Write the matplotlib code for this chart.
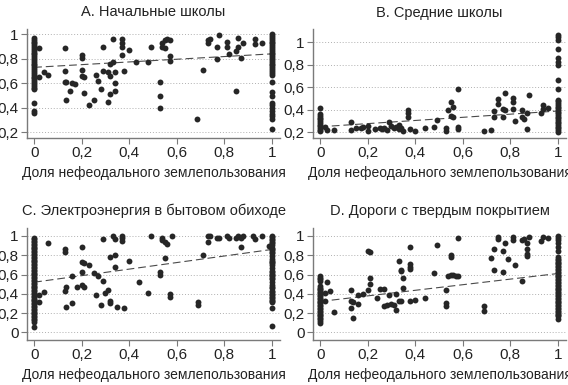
import matplotlib
matplotlib.use("Agg")
import matplotlib.pyplot as plt

plt.rcParams['font.family'] = ['Liberation Sans', 'DejaVu Sans']

titles = ["A. Начальные школы", "B. Средние школы",
          "C. Электроэнергия в бытовом обиходе", "D. Дороги с твердым покрытием"]
x_label = "Доля нефеодального землепользования"
x_ticks = [0, 0.2, 0.4, 0.6, 0.8, 1]
x_tick_labels = ["0", "0,2", "0,4", "0,6", "0,8", "1"]
y_ticks_ab = [0.2, 0.4, 0.6, 0.8, 1]
y_tick_labels_ab = ["0,2", "0,4", "0,6", "0,8", "1"]
y_ticks_cd = [0, 0.2, 0.4, 0.6, 0.8, 1]
y_tick_labels_cd = ["0", "0,2", "0,4", "0,6", "0,8", "1"]

# --- A. primary schools ---
a_x = [0.02, 0.02, 0.04, 0.06, 0.13, 0.13, 0.13, 0.135, 0.135, 0.16, 0.17, 0.15,
       0.20, 0.20, 0.20, 0.20, 0.21, 0.21, 0.23, 0.25, 0.26, 0.27, 0.28, 0.29,
       0.29, 0.31, 0.32, 0.32, 0.33, 0.32, 0.31, 0.34, 0.34, 0.34, 0.33, 0.37,
       0.37, 0.37, 0.37, 0.38, 0.40, 0.43, 0.48, 0.49, 0.53, 0.53, 0.53, 0.54,
       0.55, 0.56, 0.54, 0.55, 0.57, 0.57, 0.57, 0.685, 0.71, 0.73, 0.74, 0.73,
       0.78, 0.77, 0.77, 0.81, 0.81, 0.82, 0.85, 0.86, 0.86, 0.87, 0.85, 0.88,
       0.93, 0.93, 0.96]
a_y = [0.89, 0.65, 0.69, 0.67, 0.89, 0.70, 0.61, 0.61, 0.46, 0.60, 0.59, 0.54,
       0.83, 0.81, 0.71, 0.66, 0.65, 0.52, 0.42, 0.46, 0.67, 0.62, 0.55, 0.90,
       0.70, 0.69, 0.66, 0.76, 0.77, 0.51, 0.45, 0.54, 0.60, 0.69, 0.96, 0.96,
       0.93, 0.90, 0.83, 0.70, 0.87, 0.77, 0.77, 0.90, 0.61, 0.50, 0.40, 0.93,
       0.95, 0.96, 0.90, 0.89, 0.95, 0.82, 0.78, 0.31, 0.71, 0.95, 0.96, 0.93,
       0.99, 0.90, 0.80, 0.94, 0.90, 0.84, 0.54, 0.97, 0.90, 0.81, 0.86, 0.93,
       0.96, 0.92, 0.93]
a_col0 = [0.97, 0.955, 0.94, 0.925, 0.91, 0.895, 0.88, 0.865, 0.85, 0.835, 0.82,
          0.805, 0.79, 0.775, 0.76, 0.745, 0.73, 0.715, 0.70, 0.685, 0.67, 0.655,
          0.64, 0.625, 0.61, 0.595, 0.58, 0.565, 0.55, 0.44, 0.37, 0.36]
a_col1 = [1.0, 0.985, 0.97, 0.955, 0.94, 0.925, 0.91, 0.895, 0.88, 0.865, 0.85,
          0.835, 0.82, 0.805, 0.79, 0.775, 0.76, 0.745, 0.73, 0.715, 0.70, 0.685,
          0.67, 0.61, 0.53, 0.50, 0.44, 0.42, 0.40, 0.37, 0.35, 0.33, 0.31, 0.23]
a_trend = [0.73, 0.84]

# --- B. secondary schools ---
b_x = [0.02, 0.03, 0.06, 0.13, 0.13, 0.15, 0.17, 0.18, 0.20, 0.20, 0.23, 0.25,
       0.26, 0.27, 0.28, 0.29, 0.30, 0.31, 0.32, 0.33, 0.34, 0.35, 0.33, 0.37,
       0.37, 0.37, 0.38, 0.40, 0.44, 0.48, 0.49, 0.53, 0.53, 0.54, 0.55, 0.55,
       0.56, 0.56, 0.58, 0.58, 0.58, 0.69, 0.72, 0.73, 0.73, 0.75, 0.75, 0.77,
       0.77, 0.78, 0.78, 0.81, 0.81, 0.81, 0.82, 0.85, 0.85, 0.86, 0.87, 0.87,
       0.88, 0.93, 0.94, 0.94, 0.96]
b_y = [0.25, 0.22, 0.22, 0.29, 0.22, 0.24, 0.24, 0.25, 0.26, 0.21, 0.23, 0.24,
       0.23, 0.24, 0.22, 0.29, 0.26, 0.24, 0.25, 0.23, 0.24, 0.21, 0.27, 0.40,
       0.37, 0.34, 0.23, 0.21, 0.24, 0.25, 0.31, 0.24, 0.21, 0.40, 0.35, 0.47,
       0.43, 0.34, 0.25, 0.23, 0.59, 0.21, 0.22, 0.39, 0.34, 0.50, 0.45, 0.34,
       0.41, 0.55, 0.40, 0.51, 0.47, 0.41, 0.30, 0.40, 0.34, 0.32, 0.37, 0.23,
       0.53, 0.37, 0.44, 0.41, 0.42]
b_col0 = [0.42, 0.36, 0.345, 0.33, 0.315, 0.30, 0.285, 0.27, 0.255, 0.24, 0.225,
          0.21]
b_col1 = [1.07, 1.05, 1.02, 0.94, 0.86, 0.83, 0.80, 0.67, 0.59, 0.49, 0.475,
          0.46, 0.445, 0.43, 0.415, 0.40, 0.385, 0.37, 0.355, 0.34, 0.325, 0.31,
          0.295, 0.28, 0.265, 0.25, 0.235, 0.22, 0.205]
b_trend = [0.25, 0.39]

# --- C. household electricity ---
c_x = [0.02, 0.02, 0.04, 0.06, 0.13, 0.13, 0.13, 0.135, 0.135, 0.16, 0.16, 0.18,
       0.20, 0.20, 0.20, 0.21, 0.20, 0.21, 0.23, 0.25, 0.26, 0.27, 0.28, 0.29,
       0.29, 0.30, 0.31, 0.32, 0.32, 0.32, 0.33, 0.34, 0.34, 0.34, 0.35, 0.37,
       0.37, 0.37, 0.38, 0.40, 0.44, 0.48, 0.49, 0.54, 0.54, 0.55, 0.56, 0.55,
       0.53, 0.53, 0.57, 0.57, 0.58, 0.69, 0.69, 0.71, 0.73, 0.73, 0.74, 0.77,
       0.78, 0.81, 0.82, 0.85, 0.86, 0.87, 0.87, 0.88, 0.92, 0.93, 0.96, 0.99]
c_y = [0.39, 0.31, 0.42, 0.93, 0.43, 0.86, 0.83, 0.47, 0.26, 0.30, 0.58, 0.47,
       0.89, 0.63, 0.49, 0.47, 0.73, 0.72, 0.70, 0.62, 0.39, 0.58, 0.28, 0.53,
       0.97, 0.41, 0.44, 0.32, 0.78, 0.30, 1.0, 0.80, 0.68, 0.97, 0.26, 1.0,
       0.98, 0.95, 0.25, 0.74, 0.52, 0.41, 1.0, 0.98, 0.96, 0.94, 0.92, 0.77,
       0.63, 0.59, 0.40, 0.37, 1.0, 0.31, 0.28, 0.80, 0.94, 1.0, 1.0, 0.98,
       0.98, 1.0, 0.98, 0.98, 1.0, 0.89, 0.98, 1.0, 1.0, 0.97, 1.0, 0.90]
c_col0 = [0.98, 0.965, 0.95, 0.935, 0.92, 0.905, 0.89, 0.875, 0.86, 0.845, 0.83,
          0.815, 0.80, 0.785, 0.77, 0.755, 0.74, 0.725, 0.71, 0.695, 0.68, 0.665,
          0.65, 0.635, 0.62, 0.605, 0.59, 0.575, 0.56, 0.545, 0.53, 0.515, 0.50,
          0.485, 0.47, 0.455, 0.44, 0.425, 0.41, 0.395, 0.38, 0.365, 0.35, 0.335,
          0.32, 0.305, 0.29, 0.275, 0.26, 0.245, 0.23, 0.215, 0.20, 0.185, 0.17,
          0.155, 0.14, 0.125, 0.11, 0.05]
c_col1 = [1.0, 0.985, 0.97, 0.955, 0.94, 0.925, 0.91, 0.88, 0.865, 0.85, 0.835,
          0.82, 0.79, 0.76, 0.745, 0.73, 0.715, 0.70, 0.67, 0.64, 0.625, 0.61,
          0.595, 0.58, 0.565, 0.55, 0.52, 0.49, 0.475, 0.46, 0.43, 0.415, 0.40,
          0.385, 0.37, 0.355, 0.34, 0.325, 0.31, 0.25, 0.07]
c_trend = [0.52, 0.86]

# --- D. paved roads ---
d_x = [0.02, 0.02, 0.03, 0.04, 0.06, 0.13, 0.13, 0.14, 0.13, 0.14, 0.16, 0.16,
       0.18, 0.20, 0.20, 0.21, 0.21, 0.21, 0.24, 0.25, 0.27, 0.27, 0.28, 0.29,
       0.30, 0.31, 0.32, 0.32, 0.33, 0.33, 0.34, 0.34, 0.34, 0.35, 0.35, 0.38,
       0.38, 0.38, 0.38, 0.38, 0.40, 0.44, 0.48, 0.49, 0.53, 0.53, 0.53, 0.54,
       0.55, 0.55, 0.55, 0.56, 0.57, 0.58, 0.58, 0.69, 0.69, 0.72, 0.73, 0.73,
       0.75, 0.75, 0.77, 0.77, 0.78, 0.79, 0.81, 0.81, 0.82, 0.85, 0.85, 0.86,
       0.87, 0.87, 0.87, 0.87, 0.88, 0.93, 0.94, 0.96]
d_y = [0.32, 0.41, 0.52, 0.43, 0.21, 0.44, 0.32, 0.31, 0.25, 0.15, 0.29, 0.39,
       0.40, 0.44, 0.84, 0.83, 0.56, 0.50, 0.36, 0.45, 0.45, 0.27, 0.28, 0.39,
       0.29, 0.28, 0.40, 0.23, 0.74, 0.32, 0.65, 0.64, 0.32, 0.46, 0.56, 0.89,
       0.71, 0.68, 0.66, 0.32, 0.34, 0.36, 0.62, 0.91, 0.44, 0.30, 0.27, 0.58,
       0.78, 0.80, 0.60, 0.59, 0.58, 0.58, 0.98, 0.27, 0.22, 0.77, 0.87, 0.65,
       0.99, 0.97, 0.63, 0.84, 0.93, 0.76, 0.99, 0.96, 0.70, 0.53, 0.96, 0.97,
       0.93, 0.86, 0.81, 0.79, 0.99, 0.95, 0.99, 0.98]
d_col0 = [0.58, 0.565, 0.55, 0.535, 0.48, 0.465, 0.45, 0.435, 0.42, 0.405, 0.39,
          0.375, 0.36, 0.345, 0.33, 0.315, 0.30, 0.285, 0.27, 0.255, 0.24, 0.225,
          0.21, 0.195, 0.18, 0.165, 0.15, 0.135, 0.12, 0.10]
d_col1 = [1.0, 0.98, 0.96, 0.93, 0.89, 0.84, 0.78, 0.765, 0.75, 0.735, 0.72,
          0.705, 0.69, 0.675, 0.66, 0.645, 0.63, 0.615, 0.60, 0.585, 0.57, 0.555,
          0.54, 0.525, 0.51, 0.495, 0.48, 0.465, 0.45, 0.435, 0.42, 0.405, 0.39,
          0.375, 0.36, 0.345, 0.33, 0.315, 0.30, 0.285, 0.27, 0.255, 0.24, 0.225,
          0.21, 0.195, 0.18, 0.165, 0.14]
d_trend = [0.32, 0.61]

panels = [
    (a_x, a_y, a_col0, a_col1, a_trend, (0.153, 1.043), y_ticks_ab, y_tick_labels_ab,
     [27, 29, 280, 138]),
    (b_x, b_y, b_col0, b_col1, b_trend, (0.15, 1.12), y_ticks_ab, y_tick_labels_ab,
     [313, 29, 566, 138]),
    (c_x, c_y, c_col0, c_col1, c_trend, (-0.08, 1.083), y_ticks_cd, y_tick_labels_cd,
     [27, 228, 280, 340]),
    (d_x, d_y, d_col0, d_col1, d_trend, (-0.08, 1.083), y_ticks_cd, y_tick_labels_cd,
     [313, 228, 566, 340]),
]

W, H = 568, 385
fig = plt.figure(figsize=(W / 100, H / 100), dpi=100)
dot = '#262626'
axc = '#7a7a7a'

for i, (xs, ys, col0, col1, trend, ylim, yt, ytl, box) in enumerate(panels):
    x0, y0, x1, y1 = box  # pixel box of the plot region
    ax = fig.add_axes([x0 / W, 1 - y1 / H, (x1 - x0) / W, (y1 - y0) / H])
    for y in yt:
        ax.axhline(y, color='#b0b0b0', lw=0.7, ls=(0, (1, 2)), zorder=0)
    ax.scatter(xs, ys, s=18, color=dot, lw=0, zorder=3)
    ax.scatter([0] * len(col0), col0, s=18, color=dot, lw=0, zorder=3)
    ax.scatter([1] * len(col1), col1, s=18, color=dot, lw=0, zorder=3)
    ax.plot([0, 1], trend, color='#4a4a4a', lw=0.8, dashes=(7, 3.5), zorder=2)
    ax.set_xlim(-0.03, 1.035)
    ax.set_ylim(*ylim)
    ax.set_xticks(x_ticks)
    ax.set_xticklabels(x_tick_labels)
    ax.set_yticks(yt)
    ax.set_yticklabels(ytl)
    for s in ['top', 'right']:
        ax.spines[s].set_visible(False)
    for s in ['left', 'bottom']:
        ax.spines[s].set_color(axc)
        ax.spines[s].set_linewidth(1.0)
    ax.tick_params(length=4, width=0.8, color=axc, labelsize=11, labelcolor='#222222',
                   pad=2)
    ax.set_title(titles[i], fontsize=10.5, color='#222222', pad=9)
    ax.set_xlabel(x_label, fontsize=10, color='#222222', labelpad=4)

fig.savefig("out.png", dpi=100)
